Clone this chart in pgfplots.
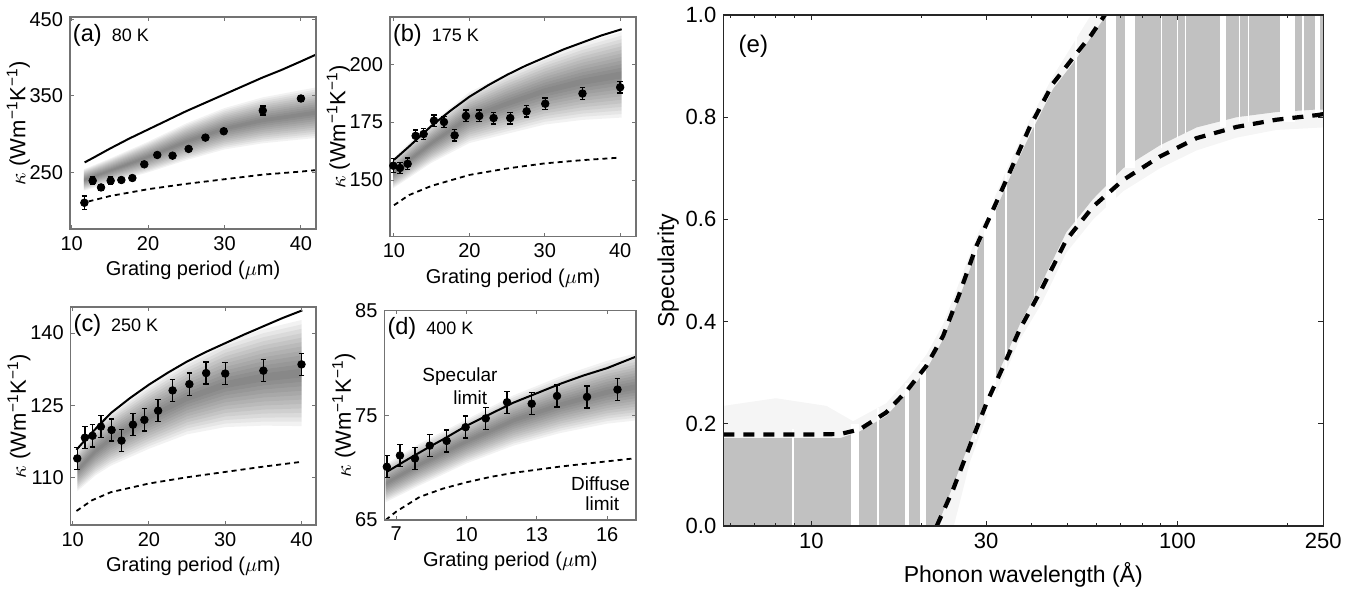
\documentclass[border=0pt]{standalone}
\usepackage{fontspec}
\setmainfont{Liberation Sans}
\usepackage{pgfplots}
\pgfplotsset{compat=1.18}
\usepackage{pgfplotstable}

\definecolor{framec}{gray}{0.45}
\definecolor{specgray}{gray}{0.755}

% band tables: centre c and half-width w, traced forward (s=1) then back (s=-1)
\pgfplotstableread{
x c w s
11.6 240 14 1
15 252 16 1
20 270 20 1
25 290 24 1
30 307 27 1
35 318 30 1
42 328 33 1
42 328 33 -1
35 318 30 -1
30 307 27 -1
25 290 24 -1
20 270 20 -1
15 252 16 -1
11.6 240 14 -1
}\bandA
\pgfplotstableread{
x c w s
9.9 153 6.5 1
12 158.5 7.5 1
15 166 8.5 1
20 177 11 1
25 183 13 1
30 188.5 14.5 1
35 192.5 16.5 1
40.2 195.5 18.5 1
40.2 195.5 18.5 -1
35 192.5 16.5 -1
30 188.5 14.5 -1
25 183 13 -1
20 177 11 -1
15 166 8.5 -1
12 158.5 7.5 -1
9.9 153 6.5 -1
}\bandB
\pgfplotstableread{
x c w s
10.6 111.5 4.3 1
13 115.5 5 1
15 118 5.5 1
20 122.5 6.5 1
25 126.5 7.5 1
30 129.3 8.8 1
35 130.8 10 1
40 131.7 11 1
40 131.7 11 -1
35 130.8 10 -1
30 129.3 8.8 -1
25 126.5 7.5 -1
20 122.5 6.5 -1
15 118 5.5 -1
13 115.5 5 -1
10.6 111.5 4.3 -1
}\bandC
\pgfplotstableread{
x c w s
6.55 68.5 1.8 1
8 70.3 2.0 1
10 72.5 2.1 1
12 74.5 2.4 1
14 76 2.7 1
16 77.2 3.0 1
17.23 77.7 3.2 1
17.23 77.7 3.2 -1
16 77.2 3.0 -1
14 76 2.7 -1
12 74.5 2.4 -1
10 72.5 2.1 -1
8 70.3 2.0 -1
6.55 68.5 1.8 -1
}\bandD

\newcommand{\bandlayer}[2]{\addplot[fill=black, fill opacity=0.05, draw=none, forget plot]
  table[x=x, y expr={\thisrow{c}+\thisrow{s}*\thisrow{w}*#2/12}] {#1} -- cycle;}
\newcommand{\bands}[1]{\bandlayer{#1}{1}\bandlayer{#1}{2}\bandlayer{#1}{3}\bandlayer{#1}{4}%
  \bandlayer{#1}{5}\bandlayer{#1}{6}\bandlayer{#1}{7}\bandlayer{#1}{8}\bandlayer{#1}{9}%
  \bandlayer{#1}{10}\bandlayer{#1}{11}\bandlayer{#1}{12}}

\pgfplotsset{
  panel/.style={
    scale only axis,
    anchor=north west,
    axis on top,
    axis line style={framec, line width=0.6pt},
    tick style={framec, line width=0.5pt},
    major tick length=2pt,
    tick align=inside,
    /pgf/number format/assume math mode=true,
    tick label style={font=\fontsize{10}{12}\selectfont, text=black},
    xlabel style={font=\fontsize{10}{12}\selectfont},
    ylabel style={font=\fontsize{11}{13}\selectfont},
    ylabel shift=-7pt,
    xlabel shift=-1.5pt,
    xlabel={Grating period ($\mu$m)},
    ylabel={$\kappa$ (Wm\textsuperscript{−1}K\textsuperscript{−1})},
  },
  spec line/.style={black, line width=1pt, forget plot},
  diff line/.style={black, line width=0.9pt, dash pattern=on 2.5pt off 2pt, forget plot},
  data pts/.style={black, only marks, mark=*, mark size=1.9pt, forget plot,
     error bars/.cd, y dir=both, y explicit,
     error bar style={black, line width=0.7pt},
     error mark options={black, rotate=90, mark size=1.4pt, line width=0.7pt}},
}

\newcommand{\gap}[4]{\addplot[fill=white, draw=none, forget plot] coordinates {(#1,#3) (#2,#3) (#2,#4) (#1,#4)} -- cycle;}

\begin{document}
\begin{tikzpicture}
\path[use as bounding box] (0pt,0pt) rectangle (682.5pt,296pt);

% ---------------- (a) ----------------
\begin{axis}[panel, at={(35pt,287.5pt)}, width=123pt, height=106pt,
  xmin=9.78, xmax=41.97, ymin=176, ymax=453,
  xtick={10,20,30,40}, ytick={250,350,450}]
\bands{\bandA}
\addplot[diff line] coordinates {(12.2,212) (15,219) (20,228) (25,235) (30,241) (35,247) (40,251) (42,253)};
\addplot[spec line] coordinates {(11.7,263) (13,270) (15,281) (17.5,294) (20,306) (22.5,318) (25,330) (27.5,341) (30,352) (32.5,363) (35,374) (37.5,384) (40,395) (42,404)};
\addplot[data pts] coordinates {
 (11.66,210.3) +- (0,9) (12.75,239.1) +- (0,5) (13.84,230.3) +- (0,4) (15.1,239) +- (0,5)
 (16.5,240) +- (0,3) (17.94,242.6) +- (0,3) (19.5,260.5) +- (0,3) (21.2,272.7) +- (0,3)
 (23.2,271.8) +- (0,3) (25.3,280.6) +- (0,3) (27.5,295.4) +- (0,3) (29.9,303.7) +- (0,3)
 (35,330.8) +- (0,6) (40,346.5) +- (0,4)};
\node[anchor=base west, inner sep=0pt] at (rel axis cs:0,1) [xshift=1.3pt, yshift=-12.5pt]
  {\fontsize{11.8}{13}\selectfont (a)\hspace{5pt}\fontsize{9}{11}\selectfont 80 K};
\end{axis}

% ---------------- (b) ----------------
\begin{axis}[panel, at={(195pt,287.5pt)}, width=123pt, height=109.85pt,
  xmin=9.47, xmax=42.1, ymin=125.5, ymax=220.5,
  xtick={10,20,30,40}, ytick={150,175,200}]
\bands{\bandB}
\addplot[diff line] coordinates {(10,139.1) (12,143.5) (15,147.5) (20,152.2) (25,155) (30,157.2) (35,158.6) (40,159.7)};
\addplot[spec line] coordinates {(10,158.7) (12,164.5) (15,173.5) (17.5,180) (20,186) (22.5,191) (25,195.5) (27.5,199.5) (30,203) (32.5,206.5) (35,209.5) (37.5,212.5) (40.2,215.2)};
\addplot[data pts] coordinates {
 (9.91,156.2) +- (0,3) (10.8,155.2) +- (0,2.5) (11.81,157) +- (0,2.5) (12.87,169.1) +- (0,2.5)
 (13.93,169.9) +- (0,2.5) (15.3,175.7) +- (0,2.5) (16.63,175.1) +- (0,2.5) (18.04,169.3) +- (0,2.5)
 (19.54,177.7) +- (0,2.5) (21.31,177.7) +- (0,2.5) (23.21,176.8) +- (0,2.5) (25.42,176.8) +- (0,2.5)
 (27.59,179.7) +- (0,2.5) (30.06,183) +- (0,2.5) (35,187.4) +- (0,2.5) (40,190.1) +- (0,2.5)};
\node[anchor=base west, inner sep=0pt] at (rel axis cs:0,1) [xshift=1.3pt, yshift=-12.2pt]
  {\fontsize{11.8}{13}\selectfont (b)\hspace{5pt}\fontsize{9}{11}\selectfont 175 K};
\end{axis}

% ---------------- (c) ----------------
\begin{axis}[panel, at={(35.35pt,142.5pt)}, width=122.65pt, height=109pt,
  xmin=9.74, xmax=41.9, ymin=100.2, ymax=145.4,
  xtick={10,20,30,40}, ytick={110,125,140}]
\bands{\bandC}
\addplot[diff line] coordinates {(10.5,103.1) (12.5,105.3) (15,107) (20,108.8) (25,110.1) (30,111.2) (35,112.3) (40,113.3)};
\addplot[spec line] coordinates {(10.5,115.8) (12,118.5) (15,123.4) (17.5,126.5) (20,129.3) (22.5,131.8) (25,134.1) (27.5,136.1) (30,137.9) (32.5,139.7) (35,141.4) (37.5,143.1) (40.1,144.7)};
\addplot[data pts] coordinates {
 (10.6,114.0) +- (0,2.3) (11.6,118.3) +- (0,2.3) (12.6,118.7) +- (0,2.3) (13.7,120.6) +- (0,2.3)
 (15.1,119.9) +- (0,2.3) (16.4,117.7) +- (0,2.3) (17.9,121.0) +- (0,2.3) (19.4,122.0) +- (0,2.3)
 (21.2,123.9) +- (0,2.3) (23.1,128.1) +- (0,2.3) (25.3,129.4) +- (0,2.3) (27.5,131.7) +- (0,2.3)
 (30.0,131.6) +- (0,2.3) (35.0,132.2) +- (0,2.3) (40,133.5) +- (0,2.3)};
\node[anchor=base west, inner sep=0pt] at (rel axis cs:0,1) [xshift=1.3pt, yshift=-12.3pt]
  {\fontsize{11.8}{13}\selectfont (c)\hspace{5pt}\fontsize{9}{11}\selectfont 250 K};
\end{axis}

% ---------------- (d) ----------------
\begin{axis}[panel, at={(192.25pt,140.75pt)}, width=125.75pt, height=104.75pt,
  xmin=6.5, xmax=17.23, ymin=65, ymax=85,
  xtick={7,10,13,16}, ytick={65,75,85}]
\bands{\bandD}
\addplot[diff line] coordinates {(6.55,65.0) (7,65.8) (7.5,66.5) (8,67.2) (9,68.0) (10,68.6) (11,69.1) (12,69.5) (13,69.8) (14,70.1) (15,70.35) (16,70.6) (17.23,70.9)};
\addplot[spec line] coordinates {(6.6,69.6) (7.5,70.8) (8.43,72.0) (9,72.7) (10,74.0) (11,75.1) (12,76.2) (13,77.1) (14,78.0) (15,78.8) (16,79.5) (17.23,80.6)};
\addplot[data pts] coordinates {
 (6.6,70.08) +- (0,1.05) (7.16,71.16) +- (0,1.05) (7.8,70.87) +- (0,1.05) (8.43,72.1) +- (0,1.05)
 (9.15,72.55) +- (0,1.05) (9.96,73.86) +- (0,1.05) (10.82,74.7) +- (0,1.05) (11.73,76.24) +- (0,1.05)
 (12.78,76.1) +- (0,1.05) (13.86,76.84) +- (0,1.05) (15.14,76.75) +- (0,1.05) (16.44,77.45) +- (0,1.05)};
\node[anchor=base west, inner sep=0pt] at (rel axis cs:0,1) [xshift=1.3pt, yshift=-12.2pt]
  {\fontsize{11.8}{13}\selectfont (d)\hspace{5pt}\fontsize{9}{11}\selectfont 400 K};
\node[font=\fontsize{9.5}{11}\selectfont, inner sep=0pt] at (axis cs:9.72,78.65) {Specular};
\node[font=\fontsize{9.5}{11}\selectfont, inner sep=0pt] at (axis cs:10.16,76.65) {limit};
\node[font=\fontsize{9.5}{11}\selectfont, inner sep=0pt] at (axis cs:15.72,68.5) {Diffuse};
\node[font=\fontsize{9.5}{11}\selectfont, inner sep=0pt] at (axis cs:15.79,66.6) {limit};
\end{axis}

% ---------------- (e) ----------------
\begin{axis}[scale only axis, anchor=north west, at={(361.65pt,288.5pt)},
  width=300pt, height=255.5pt, axis on top,
  xmode=log, xmin=5.75, xmax=250, ymin=0, ymax=1,
  xtick={10,30,100,250}, xticklabels={10,30,100,250},
  minor xtick={6,7,8,9,20,40,50,60,70,80,90,200},
  ytick={0,0.2,0.4,0.6,0.8,1}, yticklabels={0.0,0.2,0.4,0.6,0.8,1.0},
  axis line style={black!85, line width=0.7pt},
  tick style={black!85, line width=0.5pt},
  major tick length=2.5pt, minor tick length=1.5pt, tick align=inside,
  tick label style={font=\fontsize{11}{13}\selectfont},
  label style={font=\fontsize{11.5}{13}\selectfont},
  ylabel shift=-3.5pt,
  xlabel={Phonon wavelength (Å)}, ylabel={Specularity}]
% faint halo
\addplot[fill=black!4, draw=none, forget plot] coordinates {
 (5.75,0) (5.75,0.235) (8,0.25) (11,0.235) (13,0.205) (16,0.24) (18.2,0.285) (20.6,0.335)
 (22.9,0.395) (25.3,0.475) (28.2,0.565) (31.3,0.635) (35,0.715) (39.5,0.795) (45.7,0.88) (52,0.945)
 (58,1.0) (250,1.0) (250,0.78) (186,0.775) (145,0.76) (112.7,0.735) (89.5,0.70) (71,0.655)
 (58.8,0.60) (49.7,0.535) (42.5,0.435) (37.1,0.365) (34.1,0.305) (30.1,0.215) (27.1,0.125) (24.5,0)} -- cycle;
% main grey region
\addplot[fill=specgray, draw=none, forget plot] coordinates {
 (5.75,0) (5.75,0.172) (12,0.172) (13.55,0.185) (16,0.215) (18.2,0.258) (20.6,0.305) (22.9,0.365)
 (25.3,0.445) (28.2,0.535) (31.3,0.605) (35,0.685) (39.5,0.765) (45.7,0.855) (53,0.915) (62.5,0.99)
 (63.5,1.0) (250,1.0) (250,0.815) (240,0.815) (186,0.81) (145,0.80) (112.7,0.78) (89.5,0.745)
 (71,0.70) (58.8,0.64) (49.7,0.575) (42.5,0.475) (37.1,0.395) (34.1,0.335) (30.1,0.25) (27.1,0.165)
 (24.4,0.08) (22.1,0)} -- cycle;
% white gaps
\gap{8.85}{8.97}{0}{0.19}
\gap{12.85}{13.5}{0}{0.2}
\gap{15.15}{15.3}{0}{0.23}
\gap{18.05}{18.45}{0}{0.28}
\gap{19.8}{20.5}{0}{0.32}
\gap{27.9}{28.3}{0.17}{0.56}
\gap{29.7}{32.0}{0.22}{0.64}
\gap{33.7}{34.2}{0.3}{0.72}
\gap{40.5}{40.9}{0.45}{1.0}
\gap{52.6}{53.3}{0.57}{1.0}
\gap{63.8}{67.7}{0.62}{1.0}
\gap{71.8}{76.5}{0.70}{1.0}
\gap{90.3}{90.8}{0.74}{1.0}
\gap{99.7}{100.3}{0.76}{1.0}
\gap{104.5}{105.1}{0.77}{1.0}
\gap{130.5}{135.6}{0.78}{1.0}
\gap{147.3}{148}{0.79}{1.0}
\gap{156}{156.8}{0.79}{1.0}
\gap{191}{209.5}{0.79}{1.0}
\gap{219}{222}{0.80}{1.0}
\gap{238}{244.5}{0.80}{1.0}
% limits
\addplot[black, line width=2.1pt, dash pattern=on 5.5pt off 4.5pt, forget plot] coordinates {
 (5.75,0.179) (8,0.179) (10,0.179) (12,0.18) (13.55,0.189) (16,0.222) (18.2,0.264) (20.6,0.313)
 (22.9,0.372) (25.3,0.452) (28.2,0.547) (31.3,0.618) (35.2,0.70) (39.5,0.781) (45.7,0.866)
 (53,0.925) (58,0.96) (63.3,1.0)};
\addplot[black, line width=2.1pt, dash pattern=on 5.5pt off 4.5pt, forget plot] coordinates {
 (22.0,0) (24.4,0.072) (27.1,0.157) (30.1,0.241) (34.1,0.326) (37.1,0.385) (42.5,0.463)
 (49.7,0.56) (58.8,0.625) (71,0.677) (89.5,0.723) (112.7,0.759) (145,0.781) (186,0.795) (240,0.804) (250,0.806)};
\node[anchor=base west, inner sep=0pt] at (rel axis cs:0,1) [xshift=7.5pt, yshift=-19pt]
  {\fontsize{12}{14}\selectfont (e)};
\end{axis}
\end{tikzpicture}
\end{document}
